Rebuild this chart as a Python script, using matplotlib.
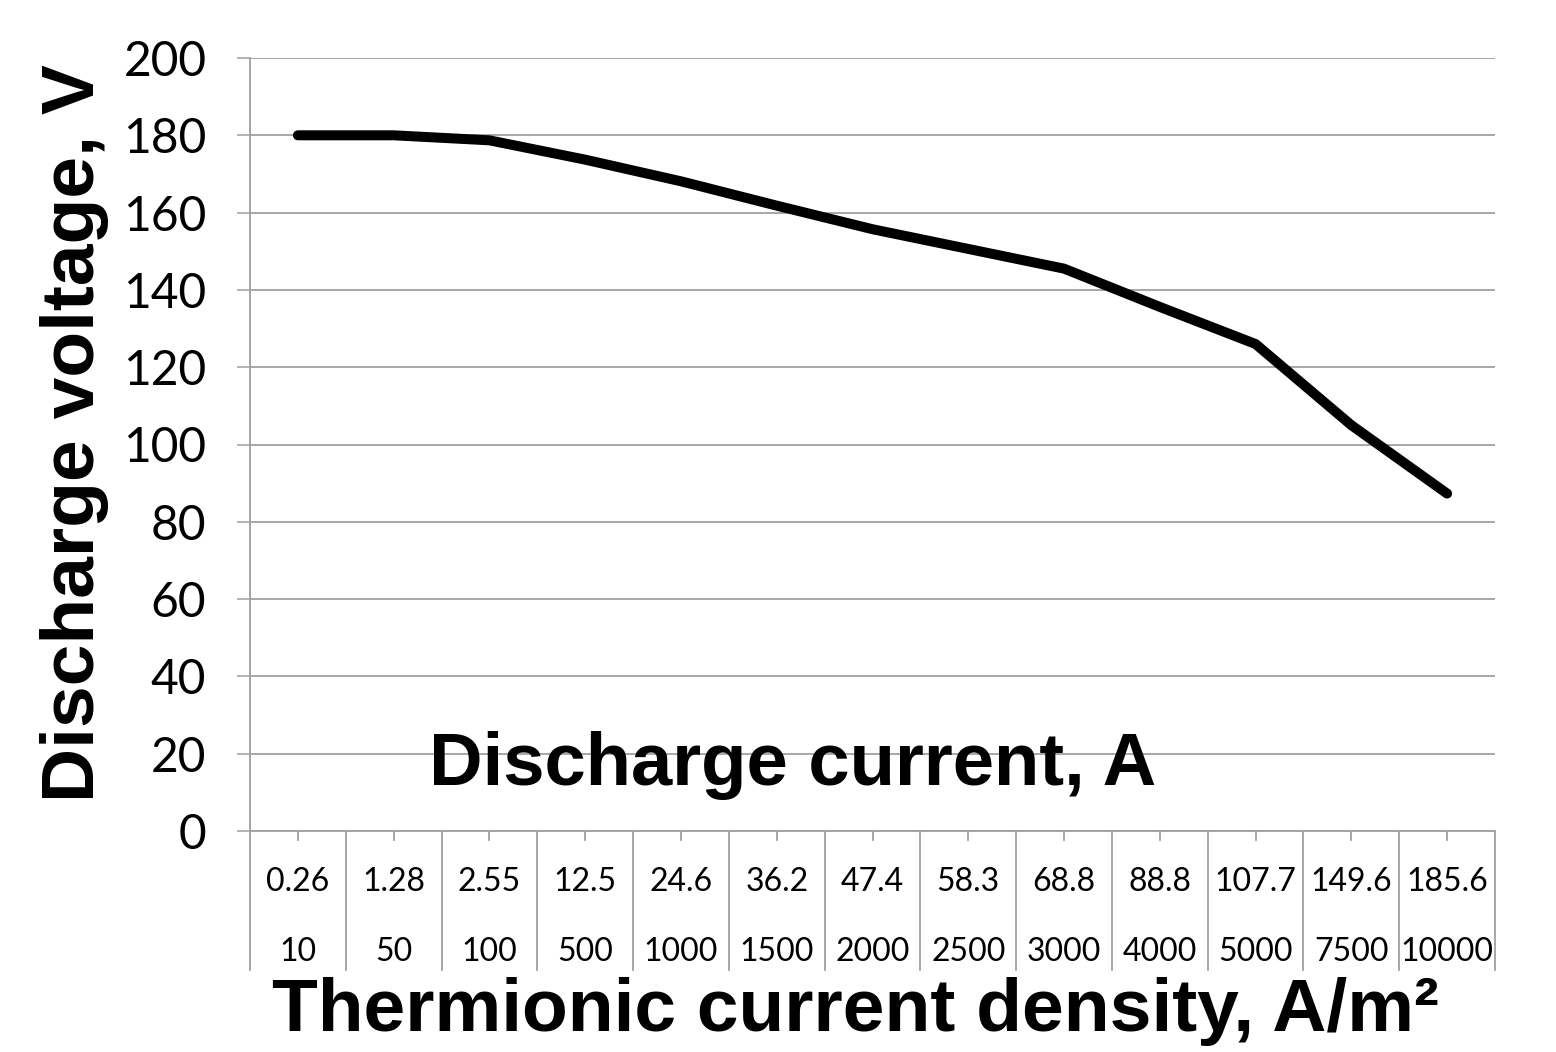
import matplotlib
matplotlib.use("Agg")
import matplotlib.pyplot as plt
import matplotlib.transforms as mtransforms

# ---- data ----
current_A = ["0.26", "1.28", "2.55", "12.5", "24.6", "36.2", "47.4", "58.3",
             "68.8", "88.8", "107.7", "149.6", "185.6"]
density_Am2 = ["10", "50", "100", "500", "1000", "1500", "2000", "2500",
               "3000", "4000", "5000", "7500", "10000"]
voltage_V = [180, 180, 178.7, 173.7, 168.1, 161.8, 155.7, 150.6, 145.5,
             135.6, 126, 105, 87.3]
y_ticks = [0, 20, 40, 60, 80, 100, 120, 140, 160, 180, 200]

grid_c = "#a0a0a0"
W, H = 1556, 1052
fig = plt.figure(figsize=(W / 100, H / 100), dpi=100)
ax = fig.add_axes([250 / W, 1 - 831 / H, (1495 - 250) / W, (831 - 58) / H])

n = len(voltage_V)
xs = list(range(n))
ax.plot(xs, voltage_V, color="black", lw=7.2, solid_capstyle="round",
        solid_joinstyle="round", zorder=5)

ax.set_xlim(-0.5, n - 0.5)
ax.set_ylim(0, 200)
ax.set_yticks(y_ticks)
ax.set_yticklabels([str(v) for v in y_ticks], fontfamily="Lato", fontsize=34.5)
ax.tick_params(axis="y", length=9.5, width=1.1, color=grid_c, pad=22)
ax.yaxis.grid(True, color=grid_c, lw=1.3)
ax.set_axisbelow(True)

ax.set_xticks(xs)
ax.set_xticklabels([""] * n)
ax.tick_params(axis="x", direction="in", length=0)

for s in ["top", "right"]:
    ax.spines[s].set_visible(False)
for s in ["left", "bottom"]:
    ax.spines[s].set_color(grid_c)
    ax.spines[s].set_linewidth(1.3)

trans = mtransforms.blended_transform_factory(ax.transData, ax.transAxes)
ybot = -(970 - 831) / (831 - 58)
# category separators
for k in range(n + 1):
    ax.plot([k - 0.5, k - 0.5], [0, ybot], transform=trans, color=grid_c,
            lw=1.3, clip_on=False)
# short marks at category centers
tick_len = -(840 - 831) / (831 - 58)
for k in xs:
    ax.plot([k, k], [0, tick_len], transform=trans, color=grid_c, lw=1.3,
            clip_on=False)

y1 = -(882 - 831) / (831 - 58)
y2 = -(952 - 831) / (831 - 58)
for k in xs:
    ax.text(k, y1, current_A[k], transform=trans, ha="center", va="center",
            fontfamily="Lato", fontsize=23)
    ax.text(k, y2, density_Am2[k], transform=trans, ha="center", va="center",
            fontfamily="Lato", fontsize=23)

ax.text((793 - 250) / (1495 - 250), (831 - 765) / (831 - 58),
        "Discharge current, A", transform=ax.transAxes, ha="center",
        va="center", fontfamily="Liberation Sans", fontweight="bold",
        fontsize=53.5, zorder=6)

fig.text(855 / W, 1 - 1012 / H, "Thermionic current density, A/m²",
         ha="center", va="center", fontfamily="Liberation Sans",
         fontweight="bold", fontsize=54)
fig.text(75 / W, 1 - 433 / H, "Discharge voltage, V", rotation=90,
         ha="center", va="center", fontfamily="Liberation Sans",
         fontweight="bold", fontsize=54)

fig.savefig("out.png", dpi=100)
